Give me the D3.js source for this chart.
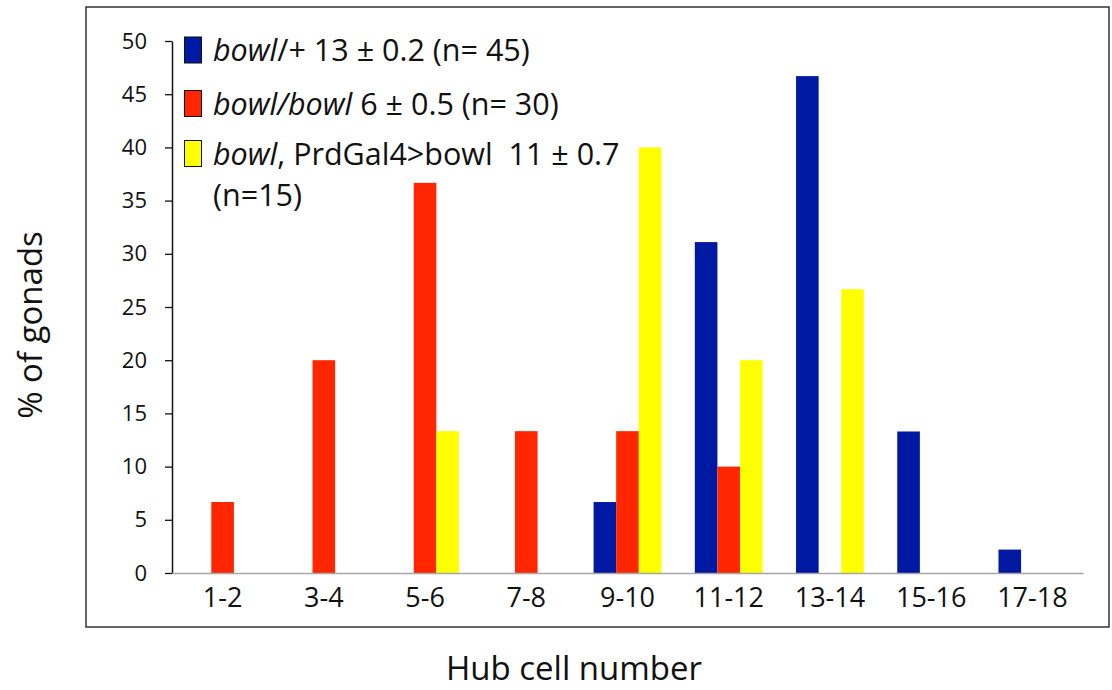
<!DOCTYPE html>
<html>
<head>
<meta charset="utf-8">
<script src="https://cdn.jsdelivr.net/npm/d3@7"></script>
<style>
  body { margin: 0; background: #fff; }
  svg text { font-family: "Open Sans", "Noto Sans", sans-serif; fill: #111; }
</style>
</head>
<body>
<svg id="chart" width="1112" height="690"></svg>
<script>
const categories = ['1-2', '3-4', '5-6', '7-8', '9-10', '11-12', '13-14', '15-16', '17-18'];
const seriesKeys = ['het', 'mut', 'rescue'];
const hetValues = [0, 0, 0, 0, 6.67, 31.1, 46.7, 13.3, 2.2];
const mutValues = [6.67, 20, 36.67, 13.33, 13.33, 10, 0, 0, 0];
const rescueValues = [0, 0, 13.33, 0, 40, 20, 26.67, 0, 0];
const yTicks = [0, 5, 10, 15, 20, 25, 30, 35, 40, 45, 50];
const colors = { het: '#0019a3', mut: '#ff2600', rescue: '#ffff00' };

const rows = categories.map((c, i) => ({
  cat: c, het: hetValues[i], mut: mutValues[i], rescue: rescueValues[i]
}));

const svg = d3.select('#chart');

// outer frame
svg.append('rect')
  .attr('x', 86).attr('y', 7)
  .attr('width', 1023).attr('height', 620)
  .attr('fill', 'none')
  .attr('stroke', '#333')
  .attr('stroke-width', 1.5);

const x0 = d3.scaleBand()
  .domain(categories)
  .range([172, 1083])
  .paddingInner(0.33)
  .paddingOuter(0.165);

const x1 = d3.scaleBand()
  .domain(seriesKeys)
  .range([0, x0.bandwidth()]);

const y = d3.scaleLinear().domain([0, 50]).range([573, 41]);

// bars
const groups = svg.append('g')
  .selectAll('g')
  .data(rows)
  .join('g')
  .attr('transform', d => `translate(${x0(d.cat)},0)`);

groups.selectAll('rect')
  .data(d => seriesKeys.map(k => ({ key: k, value: d[k] })).filter(e => e.value > 0))
  .join('rect')
  .attr('x', d => x1(d.key))
  .attr('y', d => y(d.value))
  .attr('width', x1.bandwidth())
  .attr('height', d => y(0) - y(d.value))
  .attr('fill', d => colors[d.key]);

// y axis
const yAxis = svg.append('g')
  .attr('transform', 'translate(172,0)')
  .call(d3.axisLeft(y).tickValues(yTicks).tickSize(7).tickPadding(18).tickSizeOuter(0));
yAxis.select('.domain').attr('stroke', '#111').attr('stroke-width', 1.5);
yAxis.selectAll('.tick line').attr('stroke', '#111').attr('stroke-width', 1.3);
yAxis.selectAll('.tick text')
  .style('font-size', '22px')
  .style('font-family', '"Open Sans", sans-serif')
  .attr('fill', '#111');

// x axis
const xAxis = svg.append('g')
  .attr('transform', 'translate(0,573)')
  .call(d3.axisBottom(x0).tickSize(0).tickPadding(15));
xAxis.select('.domain').attr('stroke', '#a6a6a6').attr('stroke-width', 1.5);
xAxis.selectAll('.tick text')
  .style('font-size', '27px')
  .style('font-family', '"Open Sans", sans-serif')
  .attr('fill', '#111');

// axis titles
svg.append('text')
  .attr('transform', 'translate(42,325) rotate(-90)')
  .attr('text-anchor', 'middle')
  .style('font-size', '33px')
  .text('% of gonads');

svg.append('text')
  .attr('x', 574).attr('y', 680)
  .attr('text-anchor', 'middle')
  .style('font-size', '33px')
  .text('Hub cell number');

// legend
const legendItems = [
  { key: 'het', y: 50, parts: [['bowl', true], ['/+ 13 ± 0.2 (n= 45)', false]] },
  { key: 'mut', y: 103.5, parts: [['bowl/bowl', true], [' 6 ± 0.5 (n= 30)', false]] },
  { key: 'rescue', y: 153.5, parts: [['bowl', true], [', PrdGal4>bowl  11 ± 0.7', false]] }
];

const legend = svg.append('g');
legendItems.forEach(item => {
  legend.append('rect')
    .attr('x', 184.5).attr('y', item.y - 13)
    .attr('width', 17).attr('height', 26)
    .attr('fill', colors[item.key])
    .attr('stroke', '#111')
    .attr('stroke-width', 1);
  const t = legend.append('text')
    .attr('x', 213).attr('y', item.y + 11)
    .style('font-size', '30.5px')
    .attr('xml:space', 'preserve');
  item.parts.forEach(([s, it]) => {
    t.append('tspan').style('font-style', it ? 'italic' : 'normal').text(s);
  });
});
legend.append('text')
  .attr('x', 213).attr('y', 206)
  .style('font-size', '30.5px')
  .text('(n=15)');
</script>
</body>
</html>
